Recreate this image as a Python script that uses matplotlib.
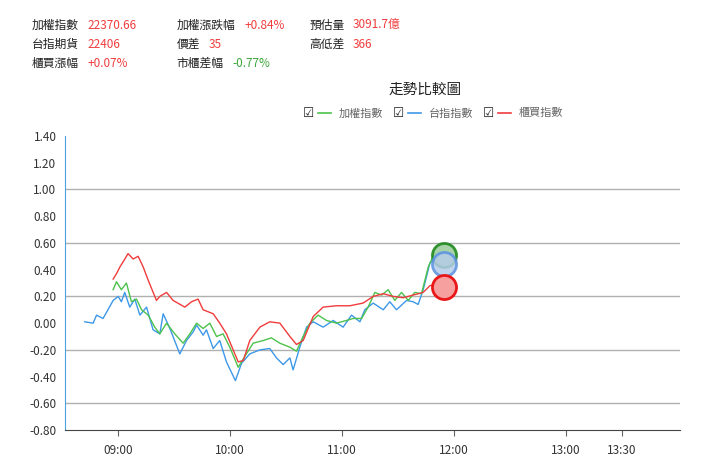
import matplotlib
matplotlib.use("Agg")
import matplotlib.pyplot as plt

plt.rcParams["font.family"] = ["Noto Sans CJK TC", "DejaVu Sans"]

# minutes after 09:00, percent change
blue_t = [-17.7, -13.2, -11.4, -7.9, -2.5, 0.2, 1.9, 3.7, 6.4, 9.1, 11.8, 15.4, 18.9, 22.5, 24.3, 27.9,
          33.2, 36.8, 40.4, 42.2, 45.7, 47.5, 51.1, 54.6, 58.2, 63.0, 66.3, 70.7, 76.1, 81.4, 85.0, 88.6,
          92.2, 93.9, 97.5, 101.1, 104.7, 110.0, 115.4, 120.7, 125.2, 129.7, 132.3, 136.8, 142.2, 145.7,
          149.3, 154.7, 158.2, 160.9, 163.6, 167.2, 169.8]
blue_v = [0.01, 0.00, 0.06, 0.035, 0.17, 0.20, 0.16, 0.23, 0.12, 0.18, 0.06, 0.12, -0.05, -0.08, 0.07, -0.04,
          -0.23, -0.13, -0.065, -0.015, -0.09, -0.05, -0.19, -0.13, -0.29, -0.43, -0.30, -0.23, -0.20, -0.19, -0.26, -0.31,
          -0.26, -0.35, -0.18, -0.03, 0.01, -0.03, 0.02, -0.03, 0.06, 0.01, 0.10, 0.15, 0.10, 0.16,
          0.10, 0.17, 0.16, 0.14, 0.25, 0.45, 0.48]

green_t = [-2.5, -0.7, 1.9, 4.6, 7.3, 10.0, 12.7, 16.3, 19.8, 22.5, 26.1, 30.5, 35.0, 38.6, 42.2, 45.7,
           49.3, 52.9, 56.4, 60.0, 64.5, 68.0, 72.5, 77.9, 82.3, 86.8, 92.2, 95.7, 99.3, 102.9, 107.3,
           111.8, 117.1, 122.5, 126.1, 130.6, 134.1, 137.7, 141.3, 144.8, 148.4, 152.0, 155.6, 159.1,
           162.7, 166.3, 169.8]
green_v = [0.25, 0.31, 0.25, 0.30, 0.16, 0.18, 0.10, 0.06, -0.03, -0.08, 0.00, -0.08, -0.15, -0.08, 0.00, -0.04,
           0.00, -0.10, -0.08, -0.18, -0.33, -0.25, -0.15, -0.13, -0.11, -0.15, -0.18, -0.21, -0.10, 0.00, 0.06,
           0.02, 0.00, 0.02, 0.035, 0.035, 0.12, 0.23, 0.21, 0.25, 0.17, 0.23, 0.17, 0.23,
           0.22, 0.42, 0.53]

red_t = [-2.5, -0.7, 1.1, 2.9, 5.5, 8.2, 10.9, 13.6, 16.3, 20.7, 22.5, 26.1, 29.6, 35.9, 39.5, 43.0,
         45.7, 51.1, 54.6, 58.2, 61.8, 64.5, 67.2, 70.7, 76.1, 81.4, 86.8, 92.2, 95.7, 99.3, 104.7,
         110.0, 117.1, 124.3, 131.4, 136.8, 142.2, 147.5, 152.9, 158.2, 163.6, 167.2, 172.5]
red_v = [0.33, 0.37, 0.42, 0.46, 0.52, 0.48, 0.50, 0.42, 0.32, 0.17, 0.20, 0.23, 0.17, 0.12, 0.16, 0.18,
         0.10, 0.07, 0.00, -0.08, -0.20, -0.29, -0.28, -0.13, -0.03, 0.01, 0.00, -0.10, -0.16, -0.13, 0.05,
         0.12, 0.13, 0.13, 0.15, 0.20, 0.22, 0.20, 0.19, 0.21, 0.23, 0.28, 0.30]

last_t = 174.7
last_v = {"green": 0.51, "blue": 0.44, "red": 0.27}

tick_pos = [0, 60, 120, 180, 240, 270]
tick_lbl = ["09:00", "10:00", "11:00", "12:00", "13:00", "13:30"]
ytick = [-0.8, -0.6, -0.4, -0.2, 0.0, 0.2, 0.4, 0.6, 0.8, 1.0, 1.2, 1.4]

RED = "#f03c3c"
GRN = "#3aa83a"
BLU = "#3d98e8"

fig = plt.figure(figsize=(7.2, 4.69), dpi=100)
ax = fig.add_axes([0.09, 0.083, 0.854, 0.627])

for y in [1.0, 0.6, 0.2, -0.2, -0.6]:
    ax.axhline(y, color="#b0b0b0", lw=1.0, zorder=0)

ax.plot(blue_t, blue_v, color=BLU, lw=1.0)
ax.plot(green_t, green_v, color="#4cc24c", lw=1.0)
ax.plot(red_t, red_v, color=RED, lw=1.0)

ax.scatter([last_t], [last_v["green"]], s=300, facecolor="#9fcf9f", edgecolor="#1e8a1e", lw=2, alpha=0.9, zorder=5)
ax.scatter([last_t], [last_v["blue"]], s=300, facecolor="#b5cdea", edgecolor="#5b92e0", lw=2, alpha=0.85, zorder=6)
ax.scatter([last_t], [last_v["red"]], s=300, facecolor="#f7a0a0", edgecolor="#e81818", lw=2, zorder=7)

ax.set_xlim(-28.4, 301)
ax.set_ylim(-0.8, 1.4)
ax.set_xticks(tick_pos)
ax.set_xticklabels(tick_lbl)
ax.set_yticks(ytick)
ax.set_yticklabels([f"{v:.2f}" for v in ytick])
ax.tick_params(axis="both", labelsize=8.5, colors="#333333", length=0, pad=6)
ax.tick_params(axis="x", length=4, color="#666666")
for s in ["top", "right"]:
    ax.spines[s].set_visible(False)
ax.spines["left"].set_color("#4aa3df")
ax.spines["bottom"].set_color("#444444")

# header
rows = [
    [("加權指數", "22370.66", RED), ("加權漲跌幅", "+0.84%", RED), ("預估量", "3091.7億", RED)],
    [("台指期貨", "22406", RED), ("價差", "35", RED), ("高低差", "366", RED)],
    [("櫃買漲幅", "+0.07%", RED), ("市櫃差幅", "-0.77%", GRN)],
]
col_x = [0.044, 0.245, 0.43]
val_dx = [0.078, 0.095, 0.06]
val_dx2 = [[0.078, 0.095, 0.060], [0.078, 0.045, 0.060], [0.078, 0.078]]
for r, row in enumerate(rows):
    yy = 0.945 - r * 0.04
    for c, (lab, val, col) in enumerate(row):
        fig.text(col_x[c], yy, lab, fontsize=8.5, color="#222222", va="center")
        fig.text(col_x[c] + val_dx2[r][c], yy, val, fontsize=8.5, color=col, va="center")

fig.text(0.59, 0.808, "走勢比較圖", fontsize=10.5, color="#222222", ha="center", va="center")

# legend row
leg = [("加權指數", "#4cc24c"), ("台指指數", BLU), ("櫃買指數", RED)]
lx = 0.42
for name, col in leg:
    fig.text(lx, 0.758, "☑", fontsize=9, color="#222222", va="center", family=["DejaVu Sans"])
    fig.lines.append(plt.Line2D([lx + 0.022, lx + 0.04], [0.758, 0.758], color=col, lw=1.2, transform=fig.transFigure))
    fig.text(lx + 0.05, 0.758, name, fontsize=8, color="#666666", va="center")
    lx += 0.125

fig.savefig("out.png", dpi=100)
